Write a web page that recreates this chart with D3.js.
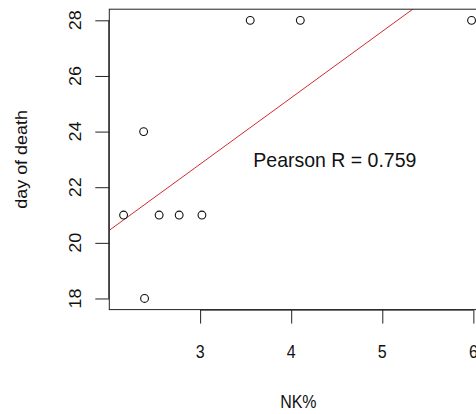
<!DOCTYPE html>
<html>
<head>
<meta charset="utf-8">
<script src="https://cdn.jsdelivr.net/npm/d3@7"></script>
<style>
  html, body { margin: 0; padding: 0; background: #fff; }
  svg { display: block; }
  text { font-family: "Liberation Sans", Arial, sans-serif; fill: #111; }
</style>
</head>
<body>
<svg id="chart" width="476" height="414"></svg>
<script>
// Data
const nkPercent = [2.16, 2.38, 2.39, 2.55, 2.77, 3.02, 3.55, 4.10, 5.98];
const dayOfDeath = [21, 24, 18, 21, 21, 21, 28, 28, 28];
const xTicks = [3, 4, 5, 6];
const yTicks = [18, 20, 22, 24, 26, 28];
const xLabel = "NK%";
const yLabel = "day of death";
const annotation = "Pearson R = 0.759";

(function () {
const svg = d3.select("#chart");
const W = 476, H = 414;
const pLeft = 109.3, pRight = 487.4, pTop = 9.2, pBottom = 309.6;
const SY = 1.12; // vertical stretch of the original raster text

const x = d3.scaleLinear().domain([2.003, 6.154]).range([pLeft, pRight]);
const y = d3.scaleLinear().domain([17.6, 28.4]).range([pBottom, pTop]);

svg.append("rect").attr("width", W).attr("height", H).attr("fill", "#fff");

svg.append("clipPath").attr("id", "plotclip")
  .append("rect").attr("x", pLeft).attr("y", pTop)
  .attr("width", pRight - pLeft).attr("height", pBottom - pTop);

// least-squares fit line (abline of lm)
const mx = d3.mean(nkPercent), my = d3.mean(dayOfDeath);
let sxy = 0, sxx = 0;
nkPercent.forEach((v, i) => { sxy += (v - mx) * (dayOfDeath[i] - my); sxx += (v - mx) * (v - mx); });
const slope = sxy / sxx, intercept = my - slope * mx;
const xd = x.domain();
svg.append("line")
  .attr("clip-path", "url(#plotclip)")
  .attr("x1", x(xd[0])).attr("y1", y(intercept + slope * xd[0]))
  .attr("x2", x(xd[1])).attr("y2", y(intercept + slope * xd[1]))
  .attr("stroke", "#d42a2a").attr("stroke-width", 1);

// points
svg.append("g").selectAll("circle")
  .data(nkPercent.map((v, i) => [v, dayOfDeath[i]]))
  .join("circle")
  .attr("cx", d => x(d[0])).attr("cy", d => y(d[1]))
  .attr("r", 3.9)
  .attr("fill", "none").attr("stroke", "#111").attr("stroke-width", 1.1);

// box
svg.append("rect")
  .attr("x", pLeft).attr("y", pTop)
  .attr("width", pRight - pLeft).attr("height", pBottom - pTop)
  .attr("fill", "none").attr("stroke", "#222").attr("stroke-width", 1);

// bottom axis
const xAxis = d3.axisBottom(x).tickValues(xTicks).tickSize(14).tickFormat("");
const gx = svg.append("g").attr("transform", `translate(0,${pBottom})`).call(xAxis);
gx.select(".domain").attr("stroke", "#222").attr("d", `M${x(xTicks[0])},0.5H${x(xTicks[xTicks.length-1])}`);
gx.selectAll(".tick line").attr("stroke", "#222");
svg.append("g").selectAll("text").data(xTicks).join("text")
  .attr("transform", d => `translate(${x(d)},357.5) scale(1,${SY})`)
  .attr("text-anchor", "middle")
  .attr("font-size", 16)
  .text(d => d);

// left axis
const yAxis = d3.axisLeft(y).tickValues(yTicks).tickSize(14).tickFormat("");
const gy = svg.append("g").attr("transform", `translate(${pLeft},0)`).call(yAxis);
gy.select(".domain").attr("stroke", "#222").attr("d", `M-0.5,${y(yTicks[0])}V${y(yTicks[yTicks.length-1])}`);
gy.selectAll(".tick line").attr("stroke", "#222");
svg.append("g").selectAll("text").data(yTicks).join("text")
  .attr("transform", d => `translate(80.5,${y(d)}) scale(1,${SY}) rotate(-90)`)
  .attr("text-anchor", "middle")
  .attr("font-size", 16)
  .text(d => d);

// axis titles
svg.append("text")
  .attr("transform", `translate(${(pLeft + pRight) / 2},408.3) scale(1,${SY})`)
  .attr("text-anchor", "middle").attr("font-size", 16)
  .text(xLabel);
svg.append("text")
  .attr("transform", `translate(26.7,${(pTop + pBottom) / 2}) scale(1,${SY}) rotate(-90)`)
  .attr("text-anchor", "middle").attr("font-size", 16)
  .text(yLabel);

// annotation
svg.append("text")
  .attr("transform", `translate(253.3,166.7) scale(1,1.08)`)
  .attr("text-anchor", "start").attr("font-size", 19.5)
  .text(annotation);
})();
</script>
</body>
</html>
